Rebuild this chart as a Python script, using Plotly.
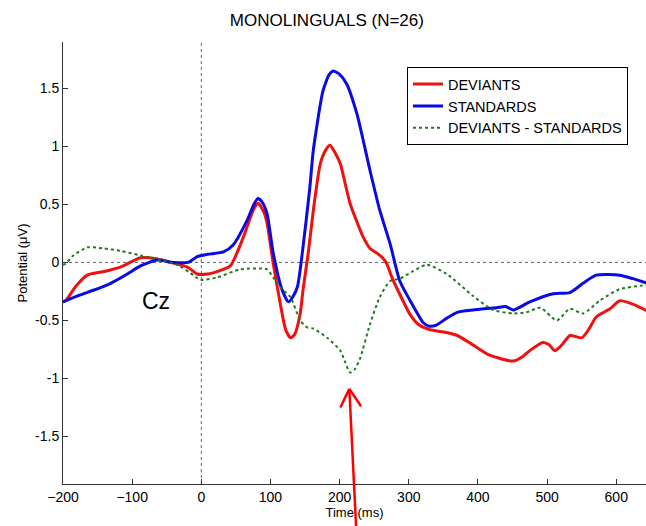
import plotly.graph_objects as go

# ---- data ----
dev_t = [-200, -196, -182, -165, -142, -117, -88, -64, -45, -20, -6, 9, 27, 42, 61, 75, 82, 90, 95, 104,
         114, 122, 129, 135, 143, 147, 155, 162, 172, 180, 186, 193, 201, 208, 215, 225, 234, 244, 254,
         262, 268, 275, 285, 302, 315, 331, 350, 370, 390, 417, 451, 465, 475, 494, 503, 511, 520, 533,
         550, 560, 571, 591, 605, 624, 645]
dev_v = [-0.34, -0.33, -0.21, -0.11, -0.08, -0.04, 0.04, 0.03, 0.0, -0.04, -0.10, -0.10, -0.07, -0.03,
         0.22, 0.45, 0.51, 0.44, 0.34, -0.01, -0.35, -0.58, -0.65, -0.62, -0.44, -0.24, 0.10, 0.45, 0.85,
         0.97, 1.01, 0.95, 0.85, 0.68, 0.51, 0.35, 0.22, 0.12, 0.08, 0.04, -0.01, -0.12, -0.25, -0.45,
         -0.54, -0.58, -0.60, -0.63, -0.70, -0.80, -0.85, -0.81, -0.76, -0.69, -0.71, -0.76, -0.72, -0.63,
         -0.65, -0.58, -0.47, -0.40, -0.33, -0.36, -0.42]

std_t = [-200, -175, -156, -131, -107, -88, -64, -40, -19, -6, 9, 32, 46, 66, 76, 82, 88, 95, 104, 117,
         126, 132, 139, 147, 157, 162, 176, 185, 191, 200, 210, 225, 244, 258, 273, 287, 302, 321, 330,
         340, 355, 370, 393, 427, 440, 451, 475, 509, 533, 552, 571, 605, 624, 645]
std_v = [-0.34, -0.28, -0.24, -0.18, -0.10, -0.03, 0.02, 0.0, 0.0, 0.05, 0.07, 0.09, 0.15, 0.36, 0.50,
         0.55, 0.52, 0.42, 0.08, -0.24, -0.34, -0.30, -0.21, 0.13, 0.65, 0.97, 1.48, 1.62, 1.65, 1.62,
         1.54, 1.28, 0.79, 0.45, 0.16, -0.16, -0.33, -0.52, -0.55, -0.54, -0.48, -0.43, -0.41, -0.39,
         -0.38, -0.41, -0.34, -0.27, -0.26, -0.18, -0.11, -0.11, -0.14, -0.18]

diff_t = [-200, -196, -185, -165, -141, -117, -88, -59, -35, -16, -1, 23, 56, 95, 104, 115, 129, 143,
          153, 162, 182, 201, 208, 215, 222, 230, 244, 258, 273, 287, 305, 326, 355, 393, 422, 451, 470,
          490, 514, 533, 552, 576, 605, 638, 645]
diff_v = [-0.02, -0.01, 0.06, 0.13, 0.12, 0.10, 0.06, 0.02, -0.02, -0.09, -0.15, -0.13, -0.06, -0.06,
          -0.13, -0.22, -0.30, -0.50, -0.56, -0.57, -0.65, -0.76, -0.86, -0.95, -0.92, -0.82, -0.53,
          -0.30, -0.16, -0.14, -0.08, -0.02, -0.10, -0.29, -0.41, -0.44, -0.43, -0.39, -0.50, -0.40,
          -0.44, -0.33, -0.23, -0.20, -0.20]

x_ticks = [-200, -100, 0, 100, 200, 300, 400, 500, 600]
y_ticks = [-1.5, -1, -0.5, 0, 0.5, 1, 1.5]
y_tick_labels = ["-1.5", "-1", "-0.5", "0", "0.5", "1", "1.5"]

X_RANGE = [-200, 643]
Y_RANGE = [-1.91, 1.9]

FONT = "Liberation Sans, Arial, sans-serif"

fig = go.Figure()
fig.add_trace(go.Scatter(x=dev_t, y=dev_v, name="DEVIANTS", mode="lines",
                         line=dict(color="#f01010", width=3, shape="spline", smoothing=0.6)))
fig.add_trace(go.Scatter(x=std_t, y=std_v, name="STANDARDS", mode="lines",
                         line=dict(color="#0a0ae6", width=3, shape="spline", smoothing=0.6)))
fig.add_trace(go.Scatter(x=diff_t, y=diff_v, name="DEVIANTS - STANDARDS", mode="lines",
                         line=dict(color="#1f7a1f", width=2, dash="dot", shape="spline", smoothing=0.6)))

# dotted reference lines at x=0 and y=0
fig.add_shape(type="line", xref="x", yref="paper", x0=0, x1=0, y0=0, y1=1,
              line=dict(color="#666666", width=1, dash="dot"), layer="below")
fig.add_shape(type="line", xref="paper", yref="y", x0=0, x1=1, y0=0, y1=0,
              line=dict(color="#666666", width=1, dash="dot"), layer="below")


def to_paper(xv, yv):
    return ((xv - X_RANGE[0]) / (X_RANGE[1] - X_RANGE[0]),
            (yv - Y_RANGE[0]) / (Y_RANGE[1] - Y_RANGE[0]))


# red arrow pointing at the difference minimum
tip = to_paper(214, -1.09)
tail = to_paper(224, -2.3)
arm_l = to_paper(201, -1.25)
arm_r = to_paper(231, -1.24)
for a, b in [(tail, tip), (arm_l, tip), (arm_r, tip)]:
    fig.add_shape(type="line", xref="paper", yref="paper", x0=a[0], y0=a[1], x1=b[0], y1=b[1],
                  line=dict(color="#ff0000", width=2.5))

fig.add_annotation(x=-66, y=-0.33, text="Cz", showarrow=False,
                   font=dict(family=FONT, size=23, color="black"))

fig.update_layout(
    width=646, height=526,
    margin=dict(l=63, r=0, t=42, b=42),
    paper_bgcolor="white", plot_bgcolor="white",
    font=dict(family=FONT, color="black", size=14),
    title=dict(text="MONOLINGUALS (N=26)", x=0.506, xref="container", xanchor="center",
               y=1 - 20 / 526, yref="container", yanchor="middle",
               font=dict(family=FONT, size=17, color="black")),
    showlegend=True,
    legend=dict(x=0.59, y=0.943, xanchor="left", yanchor="top",
                bgcolor="white", bordercolor="black", borderwidth=1,
                font=dict(family=FONT, size=14.5, color="black"),
                itemwidth=30, tracegroupgap=0),
    xaxis=dict(range=X_RANGE, tickvals=x_ticks, ticks="inside", ticklen=5, tickcolor="#333",
               showline=True, linecolor="#333", linewidth=1, showgrid=False, zeroline=False,
               tickfont=dict(size=14),
               title=dict(text="Time (ms)", font=dict(size=13), standoff=2)),
    yaxis=dict(range=Y_RANGE, tickvals=y_ticks, ticktext=y_tick_labels, ticks="inside", ticklen=5,
               tickcolor="#333", showline=True, linecolor="#333", linewidth=1, showgrid=False,
               zeroline=False, tickfont=dict(size=14),
               title=dict(text="Potential (μV)", font=dict(size=13), standoff=4)),
)

fig.write_html("out.html")
